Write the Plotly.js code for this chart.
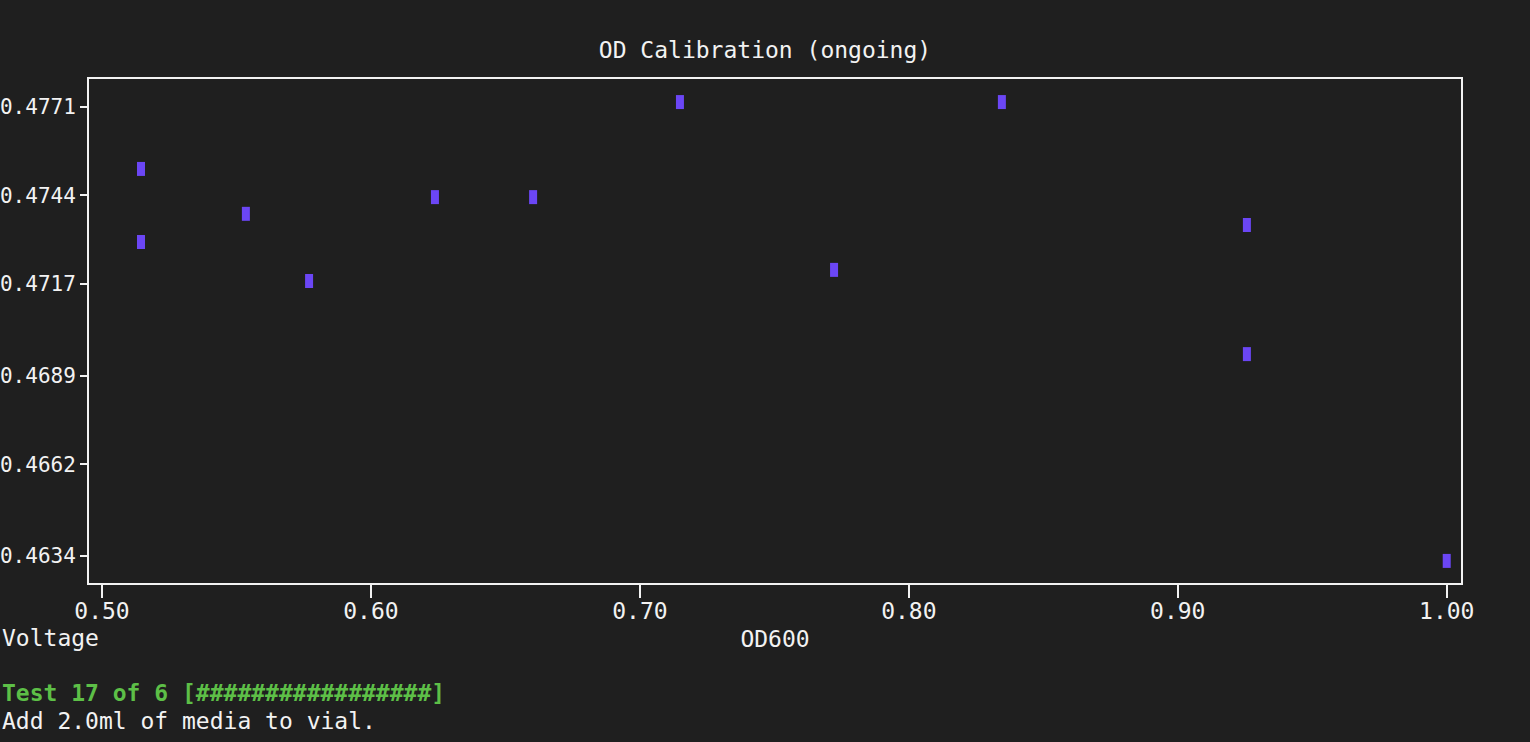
<!DOCTYPE html>
<html>
<head>
<meta charset="utf-8">
<script src="https://cdn.plot.ly/plotly-3.0.1.min.js"></script>
<style>
html,body{margin:0;padding:0;background:#1f1f1f;overflow:hidden;}
#chart{width:1530px;height:742px;}
</style>
</head>
<body>
<div id="chart"></div>
<script>
// OD600 readings (x) and voltage readings (y)
const od600 = [0.5145, 0.5145, 0.5535, 0.5770, 0.6238, 0.6603, 0.7149, 0.7722, 0.8346, 0.9257, 0.9257, 1.0000];
const voltage = [0.47521, 0.47298, 0.47384, 0.47179, 0.47435, 0.47435, 0.47725, 0.47213, 0.47725, 0.47350, 0.46956, 0.46325];
const xTickVals = [0.5, 0.6, 0.7, 0.8, 0.9, 1.0];
const xTickText = ["0.50", "0.60", "0.70", "0.80", "0.90", "1.00"];
const yTickVals = [0.4771, 0.4744, 0.4717, 0.4689, 0.4662, 0.4634];
const yTickText = ["0.4771", "0.4744", "0.4717", "0.4689", "0.4662", "0.4634"];
const titleText = "OD Calibration (ongoing)";
const xTitle = "OD600";
const yTitle = "Voltage";
const statusLine = "Test 17 of 6 [#################]";
const messageLine = "Add 2.0ml of media to vial.";

const FONT = "DejaVu Sans Mono, Liberation Mono, monospace";
const WHITE = "#f2f2f2";
const FS = 23;

const trace = {
  x: od600, y: voltage, type: "scatter", mode: "markers",
  marker: {symbol: "line-ns-open", size: 10, color: "#6b46f5",
           line: {color: "#6b46f5", width: 8}},
  hoverinfo: "x+y"
};

const layout = {
  width: 1530, height: 742,
  paper_bgcolor: "#1f1f1f", plot_bgcolor: "#1f1f1f",
  margin: {l: 89, r: 69, t: 79, b: 159},
  showlegend: false,
  font: {family: FONT, color: WHITE, size: FS},
  title: {text: titleText, x: 0.5, xanchor: "center", y: 1 - 50/742, yanchor: "middle",
          font: {family: FONT, color: WHITE, size: FS}},
  xaxis: {
    range: [0.49517, 1.00531], tickvals: xTickVals, ticktext: xTickText,
    showgrid: false, zeroline: false, showline: true, mirror: true,
    linecolor: WHITE, linewidth: 2, ticks: "outside", ticklen: 13, tickwidth: 2, tickcolor: WHITE,
    ticklabelstandoff: -7,
    tickfont: {family: FONT, color: WHITE, size: FS},
    title: {text: xTitle, standoff: 8, font: {family: FONT, color: WHITE, size: FS}}
  },
  yaxis: {
    range: [0.462576, 0.477954], tickvals: yTickVals, ticktext: yTickText,
    showgrid: false, zeroline: false, showline: true, mirror: true,
    linecolor: WHITE, linewidth: 2, ticks: "outside", ticklen: 7, tickwidth: 2, tickcolor: WHITE,
    tickfont: {family: FONT, color: WHITE, size: 21}
  },
  annotations: [
    {text: yTitle, xref: "paper", yref: "paper", x: -89/1372, xanchor: "left",
     y: -(638-583)/504, yanchor: "middle", showarrow: false,
     font: {family: FONT, color: WHITE, size: FS}},
    {text: "<b>" + statusLine + "</b>", xref: "paper", yref: "paper", x: -89/1372, xanchor: "left",
     y: -(693-583)/504, yanchor: "middle", showarrow: false,
     font: {family: FONT, color: "#5dbf47", size: FS}},
    {text: messageLine, xref: "paper", yref: "paper", x: -89/1372, xanchor: "left",
     y: -(721-583)/504, yanchor: "middle", showarrow: false,
     font: {family: FONT, color: WHITE, size: FS}}
  ]
};

Plotly.newPlot("chart", [trace], layout, {displayModeBar: false, staticPlot: true});
</script>
</body>
</html>
